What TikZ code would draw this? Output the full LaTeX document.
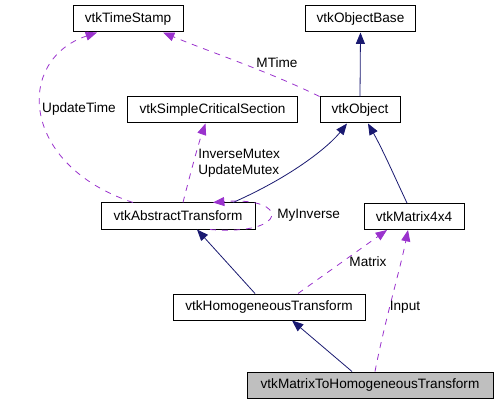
\documentclass[tikz,border=0pt]{standalone}
\usepackage{fontspec}
\setmainfont{Liberation Sans}
\usetikzlibrary{arrows.meta}

\definecolor{inhblue}{HTML}{191970}
\definecolor{usepurple}{HTML}{9A32CD}

\tikzset{
  cls/.style={draw=black, line width=0.75pt, minimum height=19.5pt,
    inner sep=0pt, font=\fontsize{10.2}{12}\selectfont},
  inh/.style={draw=inhblue, line width=0.6pt,
    -{Triangle[length=8.5pt, width=6.75pt]}, fill=none},
  use/.style={draw=usepurple, line width=0.6pt, dash pattern=on 4.5pt off 4.5pt,
    -{Triangle[length=8.5pt, width=6.75pt, fill=usepurple]}},
  lbl/.style={font=\fontsize{10.2}{12}\selectfont, inner sep=0pt}
}

\begin{document}
\begin{tikzpicture}[x=0.75pt, y=-0.75pt]
    \useasboundingbox (0, 0) rectangle (497, 403);

    % classes
    \node [cls, minimum width=82.5pt] (stamp) at (128, 19) {vtkTimeStamp};
    \node [cls, minimum width=83pt] (base) at (360.5, 19) {vtkObjectBase};
    \node [cls, minimum width=127pt] (section) at (212.5, 110)
    {vtkSimpleCriticalSection};
    \node [cls, minimum width=60pt] (object) at (360, 110) {vtkObject};
    \node [cls, minimum width=115.5pt] (abstract) at (178, 216)
    {vtkAbstractTransform};
    \node [cls, minimum width=75pt] (matrix) at (414, 216.5) {vtkMatrix4x4};
    \node [cls, minimum width=144pt] (homog) at (269, 307)
    {vtkHomogeneousTransform};
    \node [cls, minimum width=184.5pt, fill=black!25] (m2h) at (370, 385)
    {vtkMatrixToHomogeneousTransform};

    % inheritance
    \draw [inh] (object.north) -- (base.south);
    \draw [inh] ([xshift=41.25pt]abstract.north) .. controls (295, 175)
    and (330, 145) .. ([xshift=-9.75pt]object.south);
    \draw [inh] ([xshift=-5.25pt]matrix.north) .. controls (397, 182)
    and (383, 150) .. ([xshift=6pt]object.south);
    \draw [inh] ([xshift=-10.5pt]homog.north) -- ([xshift=14.25pt]abstract.south);
    \draw [inh] ([xshift=-13.5pt]m2h.north) -- ([xshift=17.25pt]homog.south);

    % usage
    \draw [use] (object.north west) .. controls (270, 72)
    and (210, 52) .. ([xshift=26.25pt]stamp.south);
    \draw [use] ([xshift=-33.75pt]abstract.north) .. controls (20, 165)
    and (15, 60) .. ([xshift=-23.25pt]stamp.south);
    \draw [use] ([xshift=3.75pt]abstract.north) .. controls (190, 175)
    and (198, 145) .. ([xshift=-5.25pt]section.south);
    \draw [use] ([xshift=24pt]abstract.south) .. controls (290, 236)
    and (290, 196) .. ([xshift=26.25pt]abstract.north);
    \draw [use] ([xshift=21.75pt]homog.north) -- ([xshift=-20.25pt]matrix.south);
    \draw [use] ([xshift=3.75pt]m2h.north) .. controls (385, 320)
    and (400, 270) .. ([xshift=-4.5pt]matrix.south);

    \node [lbl] (mtime) at (277, 63) {MTime};
    \node [lbl] (uptime) at (79, 109) {UpdateTime};
    \node [lbl, anchor=west, align=left] (mutex) at (198, 163)
    {InverseMutex\\UpdateMutex};
    \node [lbl, anchor=west] (myinv) at (277, 215) {MyInverse};
    \node [lbl] (mat) at (368, 262) {Matrix};
    \node [lbl] (inp) at (405, 307) {Input};
\end{tikzpicture}
\end{document}
